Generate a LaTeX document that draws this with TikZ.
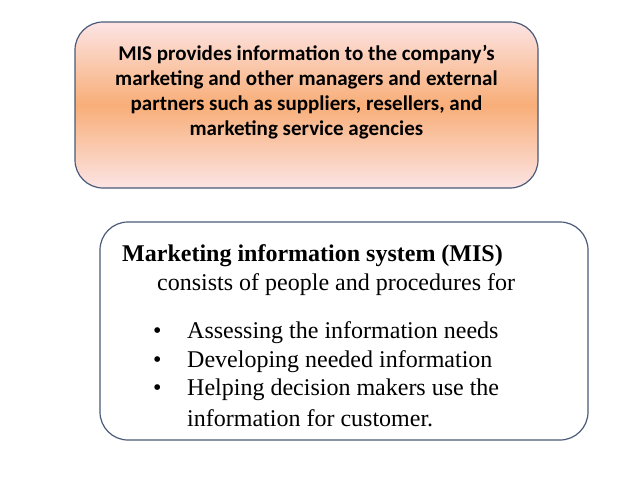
\documentclass[tikz,border=0pt]{standalone}
\usepackage{fontspec}
\setmainfont{Liberation Serif}
\newfontfamily\calibri{Carlito}
\definecolor{boxline}{HTML}{4A5A78}
\definecolor{pinkish}{HTML}{FCE4E4}
\definecolor{orangeish}{HTML}{F8AE78}
\tikzset{
  infobox/.style={draw=boxline,line width=1.2pt,rounded corners=28pt},
  bodyline/.style={anchor=west,inner sep=0pt,font=\fontsize{24}{26}\selectfont}
}
\begin{document}
\begin{tikzpicture}[x=1pt,y=-1pt]
  \useasboundingbox (0,0) rectangle (638,479);
  \draw[infobox,top color=pinkish,bottom color=pinkish,middle color=orangeish] (75,22) rectangle (538,188); % top box
  \node[align=center,font=\calibri\bfseries\fontsize{21}{24.8}\selectfont] (mistext) at (306.5,92) {MIS provides information to the company’s\\marketing and other managers and external\\partners such as suppliers, resellers, and\\marketing service agencies};
  \draw[infobox,fill=white] (100,222) rectangle (588,440); % bottom box
  \node[bodyline,font=\bfseries\fontsize{24}{26}\selectfont] (title) at (122,256) {Marketing information system (MIS)};
  \node[bodyline] (consists) at (157,285) {consists of people and procedures for};
  \foreach \y/\t [count=\i] in {333/Assessing the information needs,362/Developing needed information,390/Helping decision makers use the}{
    \node[bodyline] (bul\i) at (153,\y) {•};
    \node[bodyline] (item\i) at (187,\y) {\t};
  }
  \node[bodyline] (item4) at (187,418) {information for customer.};
\end{tikzpicture}
\end{document}
